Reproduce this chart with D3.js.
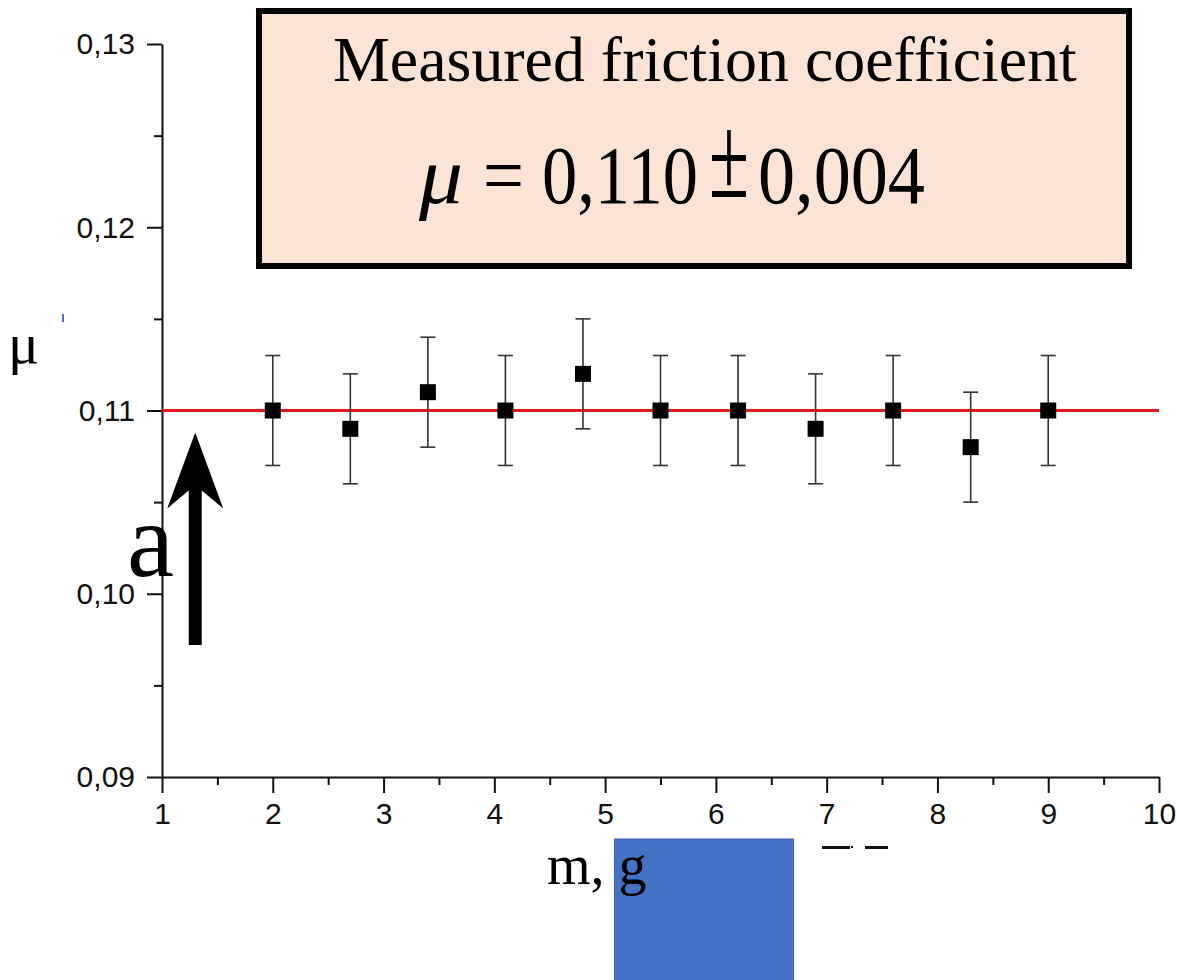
<!DOCTYPE html>
<html>
<head>
<meta charset="utf-8">
<script src="https://cdn.jsdelivr.net/npm/d3@7"></script>
<style>
  html, body { margin: 0; padding: 0; background: #fff; }
  svg { display: block; }
</style>
</head>
<body>
<svg id="chart" width="1177" height="980"></svg>
<script>
// Measurements: load mass (g) and friction coefficient with its uncertainty
const masses = [2.0, 2.7, 3.4, 4.1, 4.8, 5.5, 6.2, 6.9, 7.6, 8.3, 9.0];
const mu = [0.110, 0.109, 0.111, 0.110, 0.112, 0.110, 0.110, 0.109, 0.110, 0.108, 0.110];
const muErr = [0.003, 0.003, 0.003, 0.003, 0.003, 0.003, 0.003, 0.003, 0.003, 0.003, 0.003];
const meanMu = 0.110;

const xTicks = [1, 2, 3, 4, 5, 6, 7, 8, 9, 10];
const xMinorTicks = [1.5, 2.5, 3.5, 4.5, 5.5, 6.5, 7.5, 8.5, 9.5];
const yTicks = [0.09, 0.10, 0.11, 0.12, 0.13];
const yMinorTicks = [0.095, 0.105, 0.115, 0.125];

const svg = d3.select("#chart");
const plotLeft = 162, plotRight = 1159, plotTop = 44, plotBottom = 777;

const x = d3.scaleLinear().domain([1, 10]).range([plotLeft, plotRight]);
const y = d3.scaleLinear().domain([0.09, 0.13]).range([plotBottom, plotTop]);

const locale = d3.formatLocale({ decimal: ",", thousands: " ", grouping: [3], currency: ["", ""] });
const fmtY = locale.format(".2f");

const tickFont = "'Liberation Sans', Arial, sans-serif";
const serif = "'Liberation Serif', 'Times New Roman', serif";

// Squeeze a text horizontally so that it spans the given width
function fitText(sel, left, baseline, width) {
  const natural = sel.node().getComputedTextLength();
  sel.attr("x", 0).attr("y", 0)
    .attr("transform", `translate(${left},${baseline}) scale(${width / natural},1)`);
  return sel;
}

// Minor ticks first, then major axes on top
svg.append("g")
  .attr("transform", `translate(0,${plotBottom})`)
  .call(d3.axisBottom(x).tickValues(xMinorTicks).tickSize(8).tickFormat(""))
  .call(g => g.select(".domain").remove())
  .call(g => g.selectAll("line").attr("stroke", "#111").attr("stroke-width", 2));

svg.append("g")
  .attr("transform", `translate(${plotLeft},0)`)
  .call(d3.axisLeft(y).tickValues(yMinorTicks).tickSize(8).tickFormat(""))
  .call(g => g.select(".domain").remove())
  .call(g => g.selectAll("line").attr("stroke", "#111").attr("stroke-width", 2));

const xAxis = svg.append("g")
  .attr("transform", `translate(0,${plotBottom})`)
  .call(d3.axisBottom(x).tickValues(xTicks).tickSize(16).tickSizeOuter(0).tickPadding(10).tickFormat(d3.format("d")));
xAxis.select(".domain").attr("stroke", "#111").attr("stroke-width", 2);
xAxis.selectAll(".tick line").attr("stroke", "#111").attr("stroke-width", 2);
xAxis.selectAll(".tick text")
  .attr("font-family", tickFont).attr("font-size", 30).attr("fill", "#111");

const yAxis = svg.append("g")
  .attr("transform", `translate(${plotLeft},0)`)
  .call(d3.axisLeft(y).tickValues(yTicks).tickSize(15).tickSizeOuter(0).tickPadding(12).tickFormat(fmtY));
yAxis.select(".domain").attr("stroke", "#111").attr("stroke-width", 2);
yAxis.selectAll(".tick line").attr("stroke", "#111").attr("stroke-width", 2);
yAxis.selectAll(".tick text")
  .attr("font-family", tickFont).attr("font-size", 30).attr("fill", "#111").attr("dy", "0.33em");

// Mean value line
svg.append("line")
  .attr("x1", x(1)).attr("x2", x(10))
  .attr("y1", y(meanMu)).attr("y2", y(meanMu))
  .attr("stroke", "#e3191c").attr("stroke-width", 3);

// Error bars
const pts = masses.map((m, i) => ({ m, v: mu[i], e: muErr[i] }));
const capW = 7.5;
const eb = svg.append("g").attr("stroke", "#333").attr("stroke-width", 1.6);
eb.selectAll("line.v").data(pts).join("line").attr("class", "v")
  .attr("x1", d => x(d.m)).attr("x2", d => x(d.m))
  .attr("y1", d => y(d.v + d.e)).attr("y2", d => y(d.v - d.e));
eb.selectAll("line.t").data(pts).join("line").attr("class", "t")
  .attr("x1", d => x(d.m) - capW).attr("x2", d => x(d.m) + capW)
  .attr("y1", d => y(d.v + d.e)).attr("y2", d => y(d.v + d.e));
eb.selectAll("line.b").data(pts).join("line").attr("class", "b")
  .attr("x1", d => x(d.m) - capW).attr("x2", d => x(d.m) + capW)
  .attr("y1", d => y(d.v - d.e)).attr("y2", d => y(d.v - d.e));

// Square markers
const sq = 16;
svg.append("g").selectAll("rect").data(pts).join("rect")
  .attr("x", d => x(d.m) - sq / 2).attr("y", d => y(d.v) - sq / 2)
  .attr("width", sq).attr("height", sq).attr("fill", "#000");

// Result box
svg.append("rect")
  .attr("x", 259).attr("y", 11).attr("width", 870).attr("height", 255)
  .attr("fill", "#fbe4d5").attr("stroke", "#000").attr("stroke-width", 6);

fitText(svg.append("text")
  .attr("font-family", serif).attr("font-size", 64).attr("fill", "#000")
  .text("Measured friction coefficient"), 333, 81, 744);

const formula = svg.append("g").attr("font-family", serif).attr("fill", "#000");
fitText(formula.append("text").attr("font-size", 82).attr("font-style", "italic").text("μ"), 419, 203, 44);
fitText(formula.append("text").attr("font-size", 82).text("="), 483, 203, 41);
fitText(formula.append("text").attr("font-size", 82).text("0,110"), 542, 203, 156);
fitText(formula.append("text").attr("font-size", 118).text("±"), 709, 197, 40);
fitText(formula.append("text").attr("font-size", 82).text("0,004"), 758, 203, 167);

// Axis titles
svg.append("text")
  .attr("x", 8).attr("y", 363)
  .attr("font-family", serif).attr("font-size", 58).attr("fill", "#000")
  .text("μ");
svg.append("line")
  .attr("x1", 63).attr("x2", 63).attr("y1", 314).attr("y2", 322)
  .attr("stroke", "#4472c4").attr("stroke-width", 2);

// Blue block below the axis
svg.append("rect")
  .attr("x", 614.5).attr("y", 839).attr("width", 179).attr("height", 150)
  .attr("fill", "#4472c4").attr("stroke", "#3a62ad").attr("stroke-width", 1);

svg.append("text")
  .attr("x", 547).attr("y", 884)
  .attr("font-family", serif).attr("font-size", 56).attr("fill", "#000")
  .text("m, g");

// Clipped fragment under the axis near 7–8
const frag = svg.append("g").attr("fill", "#111");
frag.append("rect").attr("x", 822).attr("y", 846).attr("width", 28).attr("height", 3);
frag.append("rect").attr("x", 851).attr("y", 846).attr("width", 2).attr("height", 2);
frag.append("rect").attr("x", 865).attr("y", 846).attr("width", 23).attr("height", 3);

// Arrow annotation labelled "a"
const ax = x(1.3);
const tipY = y(0.1088), baseY = y(0.0972);
const arrow = d3.path();
arrow.moveTo(ax, tipY);
arrow.lineTo(ax + 28, tipY + 76);
arrow.lineTo(ax + 6.5, tipY + 58);
arrow.lineTo(ax + 6.5, baseY);
arrow.lineTo(ax - 6.5, baseY);
arrow.lineTo(ax - 6.5, tipY + 58);
arrow.lineTo(ax - 28, tipY + 76);
arrow.closePath();
svg.append("path").attr("d", arrow.toString()).attr("fill", "#000");

svg.append("text")
  .attr("x", 127).attr("y", 576)
  .attr("font-family", serif).attr("font-size", 106).attr("fill", "#000")
  .text("a");
</script>
</body>
</html>
